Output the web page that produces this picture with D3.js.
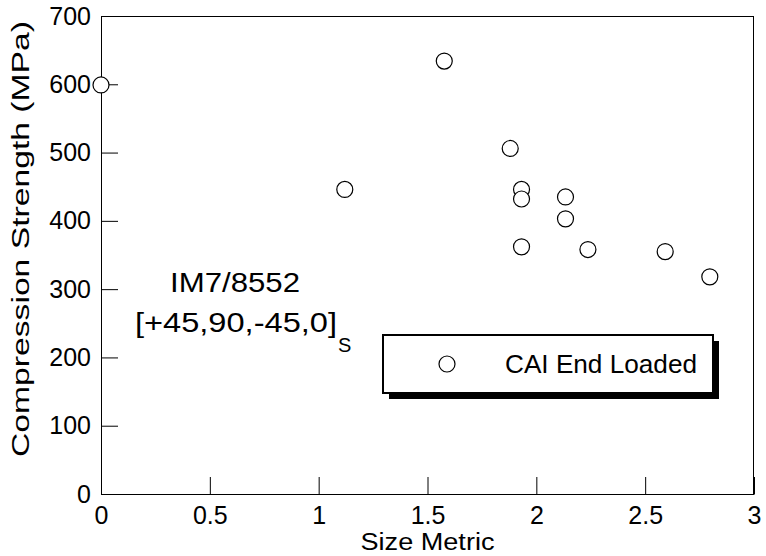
<!DOCTYPE html>
<html>
<head>
<meta charset="utf-8">
<script src="https://cdn.jsdelivr.net/npm/d3@7"></script>
<style>
  body { margin: 0; background: #fff; }
  text { font-family: "Liberation Sans", Arial, Helvetica, sans-serif; fill: #000; }
</style>
</head>
<body>
<div id="chart"></div>
<script>
// Data
var sizeMetric = [0, 1.12, 1.577, 1.88, 1.932, 1.932, 1.932, 2.134, 2.134, 2.237, 2.592, 2.797];
var strength   = [599, 446, 634, 506, 446, 432, 362, 435, 403, 358, 355, 318];
var xTicks = [0, 0.5, 1, 1.5, 2, 2.5, 3];
var yTicks = [0, 100, 200, 300, 400, 500, 600, 700];
var legendLabel = "CAI End Loaded";
var materialLabel = "IM7/8552";
var layupLabel = "[+45,90,-45,0]";
var layupSub = "S";

var points = sizeMetric.map(function(d, i) { return { x: d, y: strength[i] }; });

// Margins
var margin = { top: 16, left: 101, right: 12, bottom: 62 },
    width = 766 - margin.left - margin.right,
    height = 556 - margin.top - margin.bottom;

var svg = d3.select("#chart")
  .append("svg")
  .attr("width", 766)
  .attr("height", 556)
  .append("g")
  .attr("transform", "translate(" + margin.left + "," + margin.top + ")");

var x = d3.scaleLinear().domain([0, 3]).range([0, width]);
var y = d3.scaleLinear().domain([0, 700]).range([height, 0]);

// Frame (top and right)
svg.append("line")
  .attr("x1", 0).attr("x2", width).attr("y1", 0.5).attr("y2", 0.5)
  .attr("stroke", "#000");
svg.append("line")
  .attr("x1", width - 0.5).attr("x2", width - 0.5).attr("y1", 0).attr("y2", height)
  .attr("stroke", "#000");

// Axes, ticks pointing inwards
var xAxis = d3.axisBottom(x)
  .tickValues(xTicks)
  .tickSizeInner(-17)
  .tickSizeOuter(0)
  .tickPadding(12)
  .tickFormat(d3.format("~g"));

var gx = svg.append("g")
  .attr("class", "axis x-axis")
  .attr("transform", "translate(0," + height + ")")
  .call(xAxis);

var yAxis = d3.axisLeft(y)
  .tickValues(yTicks)
  .tickSizeInner(-17)
  .tickSizeOuter(0)
  .tickPadding(10)
  .tickFormat(d3.format("d"));

var gy = svg.append("g")
  .attr("class", "axis y-axis")
  .call(yAxis);

svg.selectAll(".axis .domain").attr("stroke", "#000");
svg.selectAll(".axis .tick line").attr("stroke", "#000");
svg.selectAll(".axis text")
  .attr("font-size", 25)
  .attr("font-family", "Liberation Sans, Arial, sans-serif")
  .attr("fill", "#000");

// Axis titles
svg.append("text")
  .attr("x", width / 2)
  .attr("y", 550 - margin.top)
  .attr("text-anchor", "middle")
  .attr("font-size", 23)
  .attr("textLength", 134)
  .attr("lengthAdjust", "spacingAndGlyphs")
  .text("Size Metric");

svg.append("text")
  .attr("transform", "translate(" + (29 - margin.left) + "," + (239 - margin.top) + ") rotate(-90)")
  .attr("text-anchor", "middle")
  .attr("font-size", 23)
  .attr("textLength", 436)
  .attr("lengthAdjust", "spacingAndGlyphs")
  .text("Compression Strength (MPa)");

// Points
svg.selectAll(".point")
  .data(points)
  .enter().append("circle")
  .attr("class", "point")
  .attr("cx", function(d) { return x(d.x); })
  .attr("cy", function(d) { return y(d.y); })
  .attr("r", 8)
  .attr("fill", "#fff")
  .attr("stroke", "#000")
  .attr("stroke-width", 1.2);

// Material annotation
svg.append("text")
  .attr("x", 170 - margin.left)
  .attr("y", 292 - margin.top)
  .attr("font-size", 27)
  .attr("textLength", 130)
  .attr("lengthAdjust", "spacingAndGlyphs")
  .text(materialLabel);

svg.append("text")
  .attr("x", 135 - margin.left)
  .attr("y", 332 - margin.top)
  .attr("font-size", 27)
  .attr("textLength", 202)
  .attr("lengthAdjust", "spacingAndGlyphs")
  .text(layupLabel);

svg.append("text")
  .attr("x", 338 - margin.left)
  .attr("y", 352 - margin.top)
  .attr("font-size", 20)
  .text(layupSub);

// Legend with drop shadow
var legend = svg.append("g")
  .attr("transform", "translate(282,319)");

legend.append("rect")
  .attr("x", 6).attr("y", 6)
  .attr("width", 330).attr("height", 58)
  .attr("fill", "#000");

legend.append("rect")
  .attr("width", 330).attr("height", 58)
  .attr("fill", "#fff")
  .attr("stroke", "#000")
  .attr("stroke-width", 2);

legend.append("circle")
  .attr("cx", 64).attr("cy", 29)
  .attr("r", 8)
  .attr("fill", "#fff")
  .attr("stroke", "#000")
  .attr("stroke-width", 1.2);

legend.append("text")
  .attr("x", 122).attr("y", 29)
  .attr("dy", "0.36em")
  .attr("font-size", 25)
  .attr("textLength", 192)
  .attr("lengthAdjust", "spacingAndGlyphs")
  .text(legendLabel);
</script>
</body>
</html>
